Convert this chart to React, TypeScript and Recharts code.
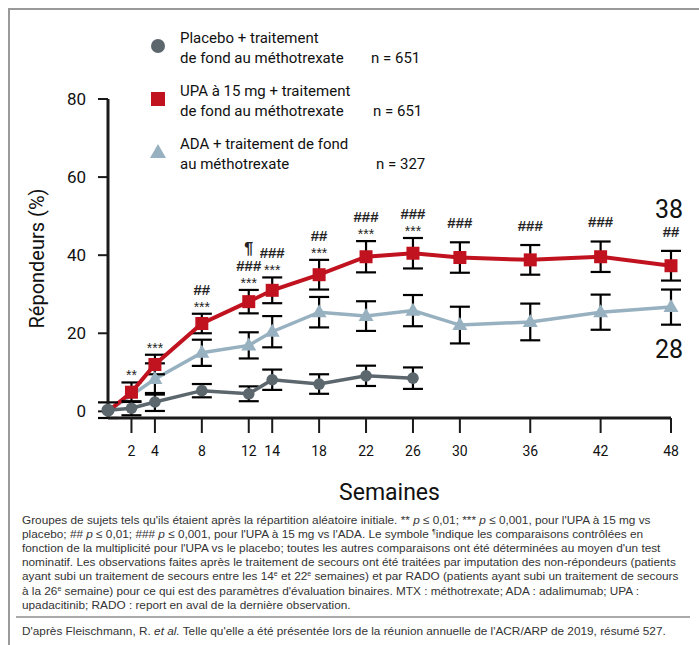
import React from 'react';
import {
  LineChart,
  Line,
  XAxis,
  YAxis,
  ErrorBar,
  LabelList,
} from 'recharts';

// weeks on the x axis
const weeks = [0, 2, 4, 8, 12, 14, 18, 22, 26, 30, 36, 42, 48];
const xTicks = [2, 4, 8, 12, 14, 18, 22, 26, 30, 36, 42, 48];
const yTicks = [0, 20, 40, 60, 80];

const placebo = [0.3, 0.8, 2.4, 5.3, 4.5, 8.1, 7, 9.1, 8.5, null, null, null, null];
const placeboErr = [2, 1.8, 2.3, 1.7, 1.9, 2.6, 2.5, 2.6, 2.75, null, null, null, null];
const upa = [0, 4.9, 12, 22.5, 28.1, 31, 35, 39.6, 40.5, 39.4, 38.8, 39.6, 37.3];
const upaErr = [0, 2.5, 2.5, 2.5, 3, 3.3, 3.8, 4, 3.9, 3.9, 3.8, 3.9, 3.8];
const ada = [0, null, 8.3, 15, 16.9, 20.4, 25.4, 24.4, 25.8, 22.1, 22.9, 25.4, 26.7];
const adaErr = [0, null, 4, 3.35, 3.35, 4, 3.9, 3.8, 4, 4.7, 4.7, 4.5, 4.5];

// significance marks above the UPA points (bottom line first)
const upaMarks = [
  [], ['**'], ['***'], ['***', '##'], ['***', '###', '¶'], ['***', '###'],
  ['***', '##'], ['***', '###'], ['***', '###'], ['###'], ['###'], ['###'], ['##'],
];
const upaEnd = '38';
const adaEnd = '28';

const legendItems = [
  { lines: ['Placebo + traitement', 'de fond au méthotrexate'], n: 'n = 651', nLeft: 371 },
  { lines: ['UPA à 15 mg + traitement', 'de fond au méthotrexate'], n: 'n = 651', nLeft: 373 },
  { lines: ['ADA + traitement de fond', 'au méthotrexate'], n: 'n = 327', nLeft: 376 },
];

const Sup = ({ children }: { children: React.ReactNode }) => (
  <span style={{ fontSize: 7, position: 'relative', top: -4 }}>{children}</span>
);

const footLines = [
  <>Groupes de sujets tels qu'ils étaient après la répartition aléatoire initiale. ** <i>p</i> ≤ 0,01; *** <i>p</i> ≤ 0,001, pour l'UPA à 15 mg vs</>,
  <>placebo; ## <i>p</i> ≤ 0,01; ### <i>p</i> ≤ 0,001, pour l'UPA à 15 mg vs l'ADA. Le symbole <Sup>¶</Sup>indique les comparaisons contrôlées en</>,
  <>fonction de la multiplicité pour l'UPA vs le placebo; toutes les autres comparaisons ont été déterminées au moyen d'un test</>,
  <>nominatif. Les observations faites après le traitement de secours ont été traitées par imputation des non-répondeurs (patients</>,
  <>ayant subi un traitement de secours entre les 14<Sup>e</Sup> et 22<Sup>e</Sup> semaines) et par RADO (patients ayant subi un traitement de secours</>,
  <>à la 26<Sup>e</Sup> semaine) pour ce qui est des paramètres d'évaluation binaires. MTX : méthotrexate; ADA : adalimumab; UPA :</>,
  <>upadacitinib; RADO : report en aval de la dernière observation.</>,
];

const data = weeks.map((w, i) => ({
  week: w,
  placebo: placebo[i],
  placeboErr: placeboErr[i],
  upa: upa[i],
  upaErr: upaErr[i],
  ada: ada[i],
  adaErr: adaErr[i],
}));

const RED = '#c0131f';
const BLUE = '#97b1c0';
const GREY = '#5b666d';
const FONT = 'Roboto, sans-serif';
const NOTE_FONT = "'Liberation Sans', Arial, sans-serif";

const W = 699;
const H = 520;
const M = { top: 99, right: 28, bottom: 62, left: 48 };
const X_AXIS_H = 40;
const Y_AXIS_W = 60;
const PX_PER_UNIT = (H - M.top - M.bottom - X_AXIS_H) / 80;

const SquareDot = (p: any) => {
  if (p.cx == null || p.cy == null || p.payload.week === 0) return null;
  return <rect x={p.cx - 6.5} y={p.cy - 6.5} width={13} height={13} fill={RED} />;
};
const TriangleDot = (p: any) => {
  if (p.cx == null || p.cy == null || p.payload.week === 0) return null;
  const { cx, cy } = p;
  return <polygon points={`${cx},${cy - 8} ${cx + 7.5},${cy + 5} ${cx - 7.5},${cy + 5}`} fill={BLUE} />;
};
const CircleDot = (p: any) => {
  if (p.cx == null || p.cy == null) return null;
  return <circle cx={p.cx} cy={p.cy} r={p.payload.week === 0 ? 6.5 : 5.8} fill={GREY} />;
};

const UpaMarks = (p: any) => {
  const { x, y, index } = p;
  if (x == null || y == null) return null;
  const marks = upaMarks[index] || [];
  const top = y - upaErr[index] * PX_PER_UNIT;
  let base = marks[0] && marks[0][0] === '*' ? top - 2 : top - 14;
  const items: React.ReactNode[] = [];
  marks.forEach((m, k) => {
    if (k > 0) base -= 17;
    const isHash = m[0] === '#';
    items.push(
      <text
        key={k}
        x={x}
        y={base}
        textAnchor="middle"
        fontSize={m === '¶' ? 16 : isHash ? 15 : 14}
        fontWeight={isHash || m === '¶' ? 'bold' : 'normal'}
        fontFamily={NOTE_FONT}
        fill="#222"
      >
        {m}
      </text>
    );
  });
  if (index === upaMarks.length - 1) {
    items.push(
      <text key="end" x={x - 2} y={base - 19} textAnchor="middle" fontSize={25} fontFamily={FONT} fill="#111">
        {upaEnd}
      </text>
    );
  }
  return <g>{items}</g>;
};

const AdaEndLabel = (p: any) => {
  const { x, y, index } = p;
  if (x == null || y == null || index !== weeks.length - 1) return null;
  const bottom = y + adaErr[index] * PX_PER_UNIT;
  return (
    <text x={x - 2} y={bottom + 33} textAnchor="middle" fontSize={25} fontFamily={FONT} fill="#111">
      {adaEnd}
    </text>
  );
};

const Legend = () => (
  <>
    {legendItems.map((it, i) => {
      const top = 28 + i * 53;
      return (
        <div key={i} style={{ position: 'absolute', left: 0, top: 0 }}>
          <svg style={{ position: 'absolute', left: 148, top: top + 8 }} width={20} height={20}>
            {i === 0 && <circle cx={10} cy={10} r={7} fill={GREY} />}
            {i === 1 && <rect x={3} y={3} width={14} height={14} fill={RED} />}
            {i === 2 && <polygon points="10,2 18,16 2,16" fill={BLUE} />}
          </svg>
          <div style={{ position: 'absolute', left: 180, top, fontSize: 15, lineHeight: '20px', whiteSpace: 'nowrap', color: '#111' }}>
            {it.lines[0]}
            <br />
            {it.lines[1]}
          </div>
          <div style={{ position: 'absolute', left: it.nLeft, top: top + 20, fontSize: 15, lineHeight: '20px', whiteSpace: 'nowrap', color: '#111' }}>
            {it.n}
          </div>
        </div>
      );
    })}
  </>
);

export default function App() {
  return (
    <div style={{ position: 'absolute', left: 0, top: 0, width: W, height: 645, background: '#fff', fontFamily: FONT, overflow: 'hidden' }}>
      <div style={{ position: 'absolute', left: 8, top: 8, width: W - 8, height: 1.5, background: '#9a9a9a' }} />
      <div style={{ position: 'absolute', left: 8, top: 8, width: 1.5, height: 645, background: '#9a9a9a' }} />
      <Legend />
      <div style={{ position: 'absolute', left: 0, top: 0 }}>
        <LineChart width={W} height={H} data={data} margin={M}>
          <XAxis
            dataKey="week"
            type="number"
            domain={[0, 48]}
            ticks={xTicks}
            height={X_AXIS_H}
            interval={0}
            axisLine={{ stroke: '#1a1a1a', strokeWidth: 3 }}
            tickLine={{ stroke: '#1a1a1a', strokeWidth: 2 }}
            tickSize={15}
            tickMargin={13}
            tick={{ fontSize: 14, fill: '#111', fontFamily: FONT }}
            label={{
              content: (props: any) => {
                const vb = props.viewBox;
                return (
                  <text x={vb.x + vb.width / 2} y={vb.y + 82} textAnchor="middle" fontSize={23} fontFamily={FONT} fill="#111">
                    Semaines
                  </text>
                );
              },
            }}
          />
          <YAxis
            type="number"
            domain={[0, 80]}
            ticks={yTicks}
            width={Y_AXIS_W}
            axisLine={{ stroke: '#1a1a1a', strokeWidth: 3 }}
            tickLine={{ stroke: '#1a1a1a', strokeWidth: 2 }}
            tickSize={10}
            tickMargin={12}
            tick={{ fontSize: 17, fill: '#111', fontFamily: FONT }}
            label={{
              content: (props: any) => {
                const vb = props.viewBox;
                const cx = vb.x - 11;
                const cy = vb.y + vb.height / 2;
                return (
                  <text x={cx} y={cy} transform={`rotate(-90 ${cx} ${cy})`} textAnchor="middle" dominantBaseline="central" fontSize={20} fontFamily={FONT} fill="#111">
                    Répondeurs (%)
                  </text>
                );
              },
            }}
          />
          <Line
            dataKey="ada"
            stroke={BLUE}
            strokeWidth={3.5}
            connectNulls
            dot={<TriangleDot />}
            activeDot={false}
            isAnimationActive={false}
          >
            <ErrorBar dataKey="adaErr" direction="y" width={10} stroke="#000" strokeWidth={2.2} />
            <LabelList dataKey="ada" content={<AdaEndLabel />} />
          </Line>
          <Line
            dataKey="upa"
            stroke={RED}
            strokeWidth={4}
            dot={<SquareDot />}
            activeDot={false}
            isAnimationActive={false}
          >
            <ErrorBar dataKey="upaErr" direction="y" width={10} stroke="#000" strokeWidth={2.2} />
            <LabelList dataKey="upa" content={<UpaMarks />} />
          </Line>
          <Line
            dataKey="placebo"
            stroke={GREY}
            strokeWidth={3.5}
            dot={<CircleDot />}
            activeDot={false}
            isAnimationActive={false}
          >
            <ErrorBar dataKey="placeboErr" direction="y" width={10} stroke="#000" strokeWidth={2.2} />
          </Line>
        </LineChart>
      </div>
      <div style={{ position: 'absolute', left: 22, top: 514, fontFamily: NOTE_FONT, fontSize: 11.8, lineHeight: '13.7px', color: '#333' }}>
        {footLines.map((l, i) => (
          <div key={i} style={{ whiteSpace: 'nowrap' }}>{l}</div>
        ))}
      </div>
      <div style={{ position: 'absolute', left: 16, top: 616, width: 674, height: 1.5, background: '#aaa' }} />
      <div style={{ position: 'absolute', left: 22, top: 624, fontFamily: NOTE_FONT, fontSize: 11.8, lineHeight: '14px', color: '#333', whiteSpace: 'nowrap' }}>
        D'après Fleischmann, R. <i>et al.</i> Telle qu'elle a été présentée lors de la réunion annuelle de l'ACR/ARP de 2019, résumé 527.
      </div>
    </div>
  );
}
